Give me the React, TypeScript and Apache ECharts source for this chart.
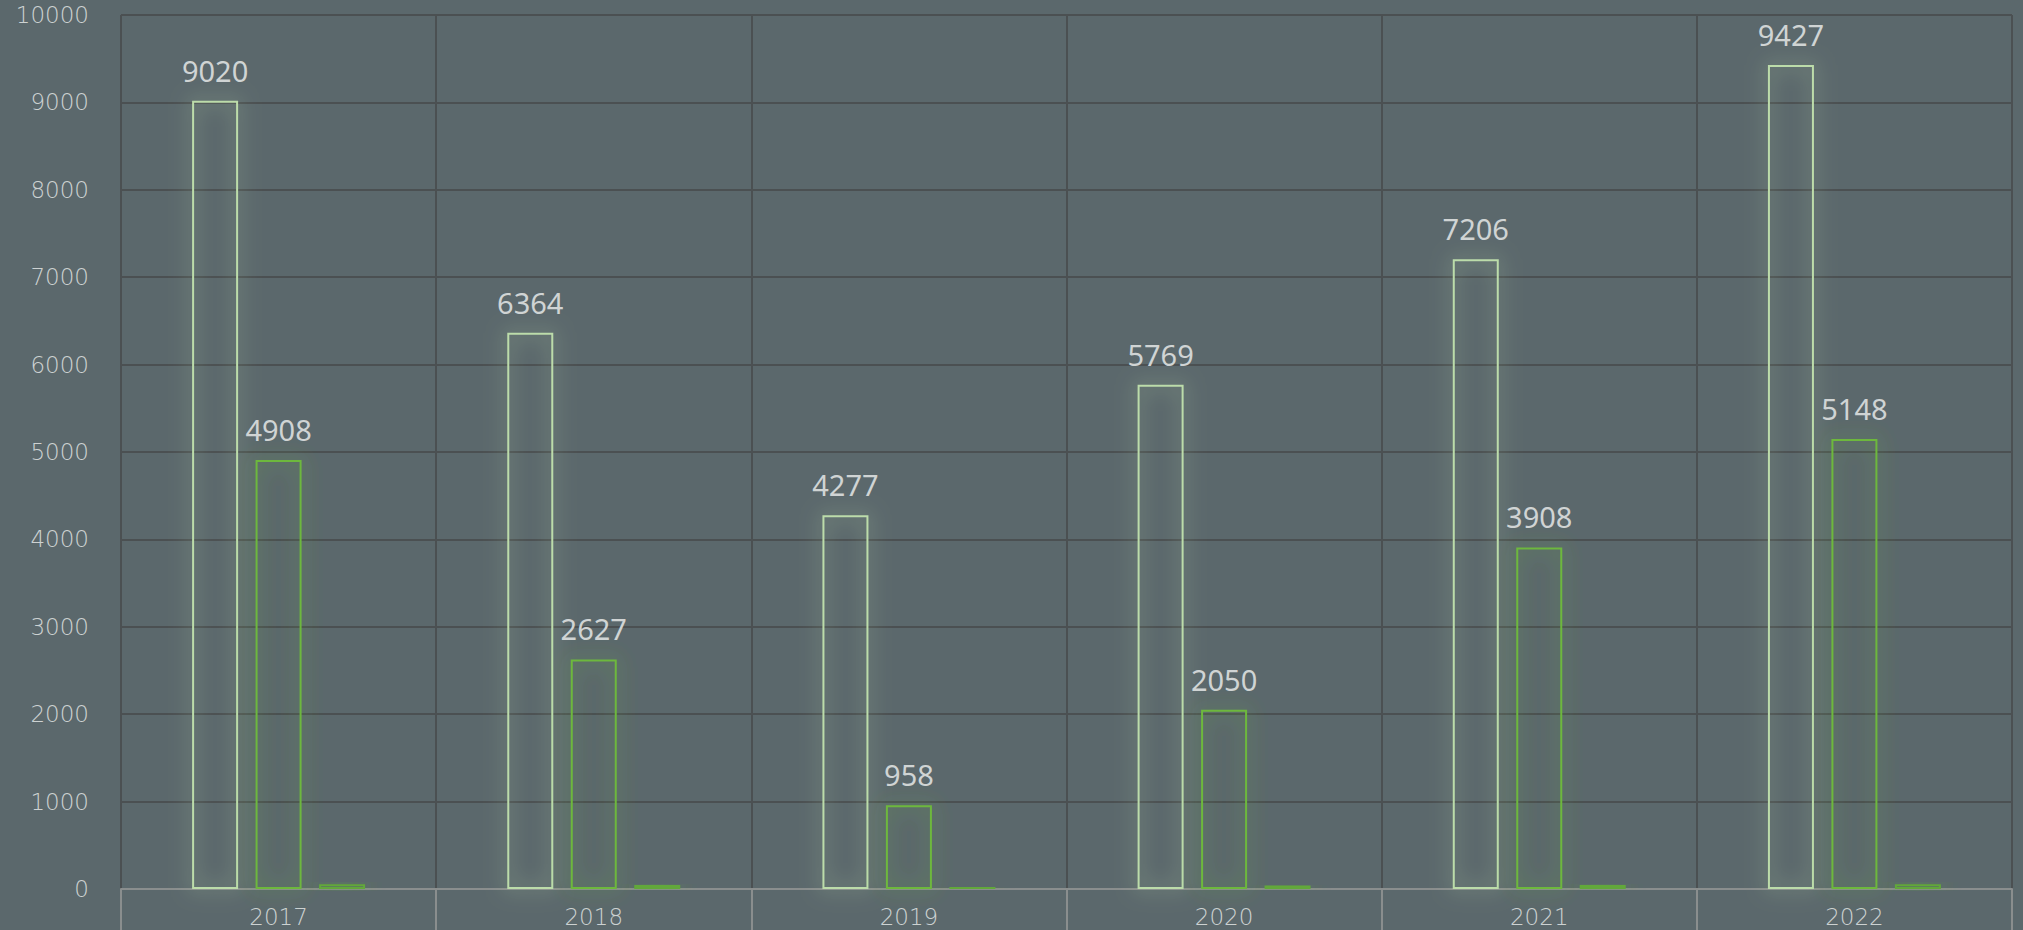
import React, { useEffect, useRef } from "react";
import * as echarts from "echarts";

const categories = ["2017", "2018", "2019", "2020", "2021", "2022"];
const seriesA = [9020, 6364, 4277, 5769, 7206, 9427];
const seriesB = [4908, 2627, 958, 2050, 3908, 5148];
const seriesC = [55, 45, 28, 40, 45, 55];
const yTicks = { min: 0, max: 10000, interval: 1000 };

export default function App() {
  const ref = useRef<HTMLDivElement>(null);
  useEffect(() => {
    document.body.style.margin = "0";
    document.body.style.background = "#5b686c";
    const chart = echarts.init(ref.current!, null, { renderer: "svg" });
    const labelStyle = {
      show: true,
      position: "top",
      distance: 16,
      color: "#d0d4d4",
      fontFamily: "Noto Sans",
      fontSize: 29,
    };
    const mk = (name: string, data: number[], color: string, showLabel: boolean) => ({
      name,
      type: "bar",
      data,
      barWidth: 46,
      barGap: "38%",
      itemStyle: {
        color: "rgba(0,0,0,0)",
        borderColor: color,
        borderWidth: 2,
        shadowColor: color,
        shadowBlur: 20,
      },
      label: showLabel ? labelStyle : { show: false },
    });
    chart.setOption({
      animation: false,
      backgroundColor: "#5b686c",
      grid: { left: 121, right: 11, top: 15, bottom: 41 },
      xAxis: {
        type: "category",
        data: categories,
        axisLine: { lineStyle: { color: "#8a8e8e", width: 2 } },
        axisTick: { show: true, length: 45, lineStyle: { color: "#8a8e8e", width: 2 } },
        axisLabel: {
          color: "#cdd2d2",
          fontFamily: "DejaVu Sans",
          fontWeight: 200,
          fontSize: 23,
          margin: 16,
        },
        splitLine: { show: true, lineStyle: { color: "#4b5052", width: 2 } },
      },
      yAxis: {
        type: "value",
        min: yTicks.min,
        max: yTicks.max,
        interval: yTicks.interval,
        axisLine: { show: false },
        axisTick: { show: false },
        axisLabel: {
          color: "#cdd2d2",
          fontFamily: "DejaVu Sans",
          fontWeight: 200,
          fontSize: 23,
          margin: 32,
          formatter: (v: number) => String(v),
        },
        splitLine: { lineStyle: { color: "#4b5052", width: 2 } },
      },
      series: [
        mk("A", seriesA, "#bcdcaa", true),
        mk("B", seriesB, "#6db83e", true),
        mk("C", seriesC, "#62a83a", false),
      ],
    });
    return () => chart.dispose();
  }, []);
  return <div ref={ref} style={{ width: 2023, height: 930 }} />;
}
